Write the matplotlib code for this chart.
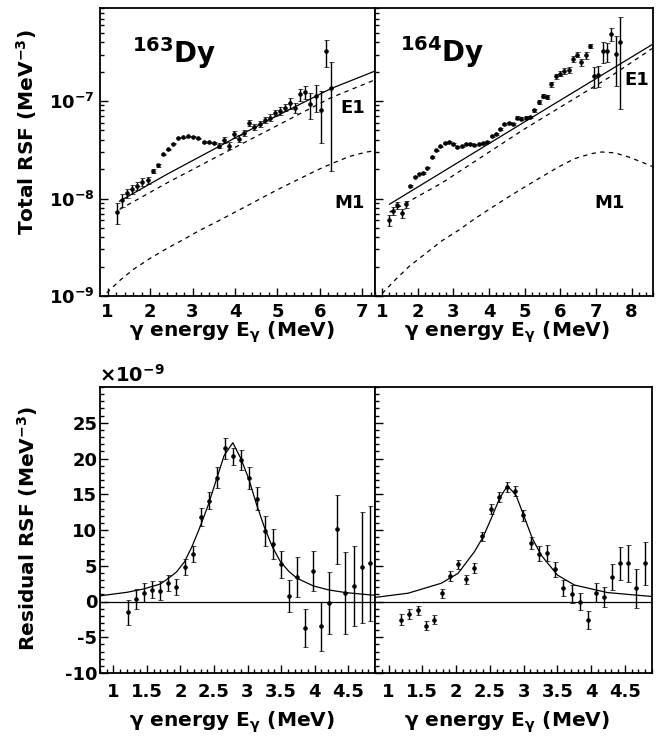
import numpy as np
import matplotlib
matplotlib.use("Agg")
import matplotlib.pyplot as plt
from matplotlib.ticker import MultipleLocator, FixedLocator, LogLocator, NullFormatter, FixedFormatter

plt.rcParams['font.family'] = 'DejaVu Sans'
plt.rcParams['font.weight'] = 'bold'
plt.rcParams['mathtext.fontset'] = 'dejavusans'
plt.rcParams['mathtext.default'] = 'bf'
plt.rcParams['axes.unicode_minus'] = False

# ---------------- data ----------------
# 163Dy total RSF, units of 1e-8 MeV^-3
E163 = [1.22, 1.34, 1.46, 1.58, 1.70, 1.82, 1.94, 2.06, 2.18, 2.30, 2.42, 2.54, 2.66, 2.78,
        2.90, 3.02, 3.14, 3.26, 3.38, 3.50, 3.62, 3.74, 3.86, 3.98, 4.10, 4.22, 4.34, 4.46,
        4.58, 4.70, 4.82, 4.94, 5.06, 5.18, 5.30, 5.42, 5.54, 5.66, 5.78, 5.90, 6.02, 6.14, 6.26]
rsf163 = [0.73, 0.96, 1.14, 1.24, 1.34, 1.49, 1.54, 1.92, 2.19, 2.84, 3.20, 3.66, 4.22, 4.25,
          4.35, 4.28, 4.15, 3.80, 3.78, 3.72, 3.49, 4.02, 3.49, 4.56, 4.11, 4.70, 5.95, 5.42,
          5.77, 6.44, 6.75, 7.54, 7.90, 8.55, 9.54, 8.55, 11.7, 12.4, 9.39, 11.2, 8.15, 32.5, 13.6]
err163 = [0.18, 0.145, 0.12, 0.13, 0.126, 0.135, 0.13, 0.11, 0.08, 0.05, 0.05, 0.05, 0.05, 0.05,
          0.05, 0.05, 0.05, 0.06, 0.06, 0.06, 0.22, 0.28, 0.275, 0.34, 0.32, 0.37, 0.42, 0.38,
          0.41, 0.46, 0.53, 0.59, 0.72, 0.73, 1.3, 1.06, 1.6, 1.8, 2.8, 3.4, 4.4, 10.0, 11.7]

# 164Dy total RSF, units of 1e-8 MeV^-3
E164 = [1.19, 1.31, 1.43, 1.55, 1.67, 1.79, 1.91, 2.03, 2.15, 2.27, 2.39, 2.51, 2.63, 2.75,
        2.87, 2.99, 3.11, 3.23, 3.35, 3.47, 3.59, 3.71, 3.83, 3.95, 4.07, 4.19, 4.31, 4.43,
        4.55, 4.67, 4.79, 4.91, 5.03, 5.15, 5.27, 5.39, 5.51, 5.63, 5.75, 5.87, 5.99, 6.11,
        6.23, 6.35, 6.47, 6.59, 6.71, 6.83, 6.95, 7.07, 7.19, 7.31, 7.43, 7.55, 7.67]
rsf164 = [0.60, 0.747, 0.854, 0.702, 0.875, 1.34, 1.67, 1.80, 1.83, 2.08, 2.67, 3.13, 3.43, 3.72,
          3.80, 3.60, 3.38, 3.43, 3.60, 3.60, 3.52, 3.66, 3.72, 3.80, 4.35, 4.63, 5.21, 5.77,
          6.00, 5.86, 6.75, 6.60, 6.75, 6.86, 8.03, 9.77, 11.25, 11.0, 14.8, 17.9, 19.1, 20.3,
          20.9, 27.1, 30.0, 25.1, 29.4, 36.6, 17.9, 18.3, 32.3, 32.3, 48.9, 30.5, 40.2]
err164 = [0.077, 0.067, 0.076, 0.070, 0.069, 0.02, 0.025, 0.027, 0.027, 0.03, 0.04, 0.047, 0.05, 0.09,
          0.09, 0.086, 0.08, 0.08, 0.086, 0.086, 0.084, 0.088, 0.09, 0.09, 0.10, 0.11, 0.125, 0.14,
          0.145, 0.14, 0.20, 0.20, 0.20, 0.21, 0.26, 0.46, 0.53, 0.52, 0.81, 0.98, 1.05, 1.28,
          1.32, 1.7, 1.9, 2.0, 2.3, 2.0, 4.3, 4.4, 7.7, 7.2, 7.7, 16.4, 32.0]

# model curves (total, E1, M1), units of 1e-8
tot163_E = [1.28, 2.40, 3.63, 4.75, 6.26, 7.30]
tot163 = [0.939, 1.775, 3.43, 6.24, 13.4, 20.3]
e1_163_E = [1.28, 2.40, 3.63, 4.75, 6.26, 7.30]
e1_163 = [0.772, 1.447, 2.76, 4.93, 10.8, 16.5]
m1_163_E = [0.98, 1.30, 1.61, 2.00, 2.40, 2.79, 3.18, 3.57, 3.97, 4.36, 4.75, 5.14, 5.53,
            5.93, 6.32, 6.71, 7.10, 7.30]
m1_163 = [0.108, 0.146, 0.188, 0.243, 0.308, 0.380, 0.474, 0.577, 0.713, 0.875, 1.08, 1.32,
          1.60, 1.95, 2.32, 2.71, 3.00, 3.08]

tot164_E = [1.21, 5.01, 8.61]
tot164 = [0.875, 6.15, 38.6]
e1_164_E = [1.21, 2.68, 5.01, 7.35, 8.61]
e1_164 = [0.724, 1.447, 5.21, 17.3, 35.2]
m1_164_E = [1.00, 1.38, 1.75, 2.22, 2.68, 3.15, 3.61, 4.08, 4.55, 5.01, 5.48, 5.95, 6.41,
            6.88, 7.16, 7.53, 7.91, 8.28, 8.61]
m1_164 = [0.106, 0.148, 0.200, 0.273, 0.369, 0.474, 0.624, 0.809, 1.04, 1.32, 1.67, 2.11,
          2.57, 2.89, 3.00, 2.94, 2.67, 2.37, 2.11]

# residual RSF, units of 1e-9 MeV^-3
res163 = [-1.53, 0.32, 1.25, 1.62, 1.53, 2.55, 1.99, 4.86, 6.62, 11.8, 14.1, 17.3, 21.4, 20.3,
          19.8, 17.3, 14.35, 9.86, 8.0, 5.19, 0.79, 3.47, -3.70, 4.21, -3.47, -0.23, 10.1,
          1.16, 2.18, 4.77, 5.32]
res163_err = [1.8, 1.4, 1.3, 1.2, 1.3, 1.15, 1.1, 1.1, 1.1, 1.3, 1.2, 1.45, 1.4, 1.16, 1.45,
              1.5, 1.6, 2.1, 2.1, 1.85, 2.25, 2.8, 2.64, 2.8, 3.4, 4.3, 4.8, 5.7, 5.6, 7.8, 8.0]
res164 = [-2.55, -1.76, -1.25, -3.38, -2.55, 1.16, 3.56, 5.19, 3.10, 4.63, 9.12, 12.96, 14.58,
          15.97, 15.42, 12.04, 8.19, 6.71, 6.81, 4.49, 1.85, 1.02, 0.0, -2.64, 1.25, 0.69,
          3.47, 5.32, 5.32, 1.85, 5.32]
res164_err = [0.8, 0.7, 0.67, 0.65, 0.6, 0.65, 0.7, 0.63, 0.67, 0.7, 0.67, 0.74, 0.72, 0.7,
              0.67, 0.79, 0.86, 1.0, 1.1, 1.0, 1.1, 1.27, 1.2, 1.27, 1.27, 1.4, 1.8, 2.3, 2.6,
              2.7, 3.0]

# Lorentzian fits to residuals, units of 1e-9
lor163_E = [0.80, 1.21, 1.45, 1.70, 1.82, 1.94, 2.06, 2.17, 2.29, 2.41, 2.53, 2.65, 2.78,
            2.90, 3.02, 3.13, 3.25, 3.37, 3.49, 3.62, 3.74, 3.98, 4.21, 4.46, 4.82, 4.98]
lor163 = [0.79, 1.3, 1.75, 2.45, 3.24, 4.12, 5.56, 7.64, 10.4, 13.4, 16.9, 20.4, 22.2,
          20.0, 17.1, 13.7, 10.4, 7.64, 5.56, 4.17, 3.24, 2.18, 1.62, 1.25, 0.93, 0.83]
lor164_E = [0.79, 1.29, 1.78, 2.03, 2.27, 2.40, 2.52, 2.64, 2.76, 2.89, 3.01, 3.13, 3.26,
            3.50, 3.75, 4.24, 4.91]
lor164 = [0.56, 1.16, 2.55, 3.94, 6.94, 9.03, 11.6, 14.35, 16.2, 14.8, 11.8, 8.8, 6.48,
          3.70, 2.31, 1.25, 0.69]

# ---------------- figure ----------------
W, H = 668.0, 747.0
fig = plt.figure(figsize=(W / 100, H / 100), dpi=100)

def box(x0, y0, x1, y1):
    return [x0 / W, 1 - y1 / H, (x1 - x0) / W, (y1 - y0) / H]

ax_tl = fig.add_axes(box(100, 8, 375, 296))
ax_tr = fig.add_axes(box(375, 8, 653, 296))
ax_bl = fig.add_axes(box(100, 387, 375, 673))
ax_br = fig.add_axes(box(375, 387, 652, 673))

pt_kw = dict(fmt='o', ms=2.7, mew=0.5, color='k', ecolor='k', elinewidth=1.0,
             capsize=1.8, capthick=1.0)
dash = (0, (3.5, 3.5))
tick_fs = 13


def style(ax, xlabel_pad):
    for s in ax.spines.values():
        s.set_linewidth(1.3)
    ax.tick_params(which='both', direction='in', top=False, right=False, width=1.0,
                   labelsize=tick_fs)
    ax.tick_params(which='major', length=6)
    ax.tick_params(which='minor', length=3)
    ax.tick_params(axis='x', pad=xlabel_pad)


# top panels
for ax, E, v, e, tE, tv, eE, ev, mE, mv, xmin, xmax, xt in [
        (ax_tl, E163, rsf163, err163, tot163_E, tot163, e1_163_E, e1_163, m1_163_E, m1_163, 0.82, 7.3, range(1, 8)),
        (ax_tr, E164, rsf164, err164, tot164_E, tot164, e1_164_E, e1_164, m1_164_E, m1_164, 0.8, 8.6, range(1, 9))]:
    s = 1e-8
    ax.plot(tE, np.array(tv) * s, color='k', lw=0.9)
    ax.plot(eE, np.array(ev) * s, color='k', lw=0.9, ls=dash)
    ax.plot(mE, np.array(mv) * s, color='k', lw=0.9, ls=dash)
    ax.errorbar(E, np.array(v) * s, yerr=np.array(e) * s, **pt_kw)
    ax.set_yscale('log')
    ax.set_ylim(1e-9, 9e-7)
    ax.set_xlim(xmin, xmax)
    ax.xaxis.set_major_locator(FixedLocator(list(xt)))
    ax.xaxis.set_major_formatter(FixedFormatter([str(i) for i in xt]))
    ax.xaxis.set_minor_locator(MultipleLocator(0.2))
    ax.yaxis.set_major_locator(FixedLocator([1e-9, 1e-8, 1e-7]))
    ax.yaxis.set_major_formatter(FixedFormatter([r'$10^{-9}$', r'$10^{-8}$', r'$10^{-7}$']))
    ax.yaxis.set_minor_locator(LogLocator(base=10, subs=np.arange(2, 10)))
    ax.yaxis.set_minor_formatter(NullFormatter())
    style(ax, 5)
    ax.tick_params(axis='y', pad=4)

ax_tr.tick_params(labelleft=False)

ax_tl.text(0.116, 0.809, r'$^{163}$Dy', transform=ax_tl.transAxes, fontsize=20,
           fontweight='bold', va='baseline')
ax_tr.text(0.09, 0.8125, r'$^{164}$Dy', transform=ax_tr.transAxes, fontsize=20,
           fontweight='bold', va='baseline')
ax_tl.text(0.92, 0.653, 'E1', transform=ax_tl.transAxes, fontsize=13, ha='center', va='center')
ax_tr.text(0.942, 0.75, 'E1', transform=ax_tr.transAxes, fontsize=13, ha='center', va='center')
ax_tl.text(0.909, 0.323, 'M1', transform=ax_tl.transAxes, fontsize=13, ha='center', va='center')
ax_tr.text(0.845, 0.323, 'M1', transform=ax_tr.transAxes, fontsize=13, ha='center', va='center')

# bottom panels
for ax, E, v, e, lE, lv in [(ax_bl, E163[:31], res163, res163_err, lor163_E, lor163),
                            (ax_br, E164[:31], res164, res164_err, lor164_E, lor164)]:
    ax.axhline(0, color='k', lw=0.9)
    ax.plot(lE, lv, color='k', lw=0.9)
    ax.errorbar(E, v, yerr=e, **pt_kw)
    ax.set_xlim(0.8, 4.9)
    ax.set_ylim(-10, 30)
    xt = [1, 1.5, 2, 2.5, 3, 3.5, 4, 4.5]
    ax.xaxis.set_major_locator(FixedLocator(xt))
    ax.xaxis.set_major_formatter(FixedFormatter(['1', '1.5', '2', '2.5', '3', '3.5', '4', '4.5']))
    ax.xaxis.set_minor_locator(MultipleLocator(0.1))
    yt = [-10, -5, 0, 5, 10, 15, 20, 25]
    ax.yaxis.set_major_locator(FixedLocator(yt))
    ax.yaxis.set_major_formatter(FixedFormatter([str(t) for t in yt]))
    ax.yaxis.set_minor_locator(MultipleLocator(1))
    style(ax, 7)
    ax.tick_params(axis='y', pad=2)

ax_br.tick_params(labelleft=False)

fig.text(99 / W, 1 - 382 / H, r'$\mathrm{\times}10^{-9}$', fontsize=14, va='baseline', ha='left')

# axis titles
ylab = dict(rotation=90, ha='center', va='center', fontsize=14.5, fontweight='bold')
fig.text(27 / W, 1 - 132 / H, r'Total RSF (MeV$^{-3}$)', **ylab)
fig.text(28 / W, 1 - 528 / H, r'Residual RSF (MeV$^{-3}$)', **ylab)

xlab_str = r'$\mathrm{\gamma}$ energy E$_{\mathrm{\gamma}}$ (MeV)'
xlab = dict(ha='center', va='center', fontsize=14.5, fontweight='bold')
fig.text(232 / W, 1 - 332 / H, xlab_str, **xlab)
fig.text(507 / W, 1 - 332 / H, xlab_str, **xlab)
fig.text(232 / W, 1 - 722 / H, xlab_str, **xlab)
fig.text(507 / W, 1 - 722 / H, xlab_str, **xlab)

fig.savefig('out.png', dpi=100, facecolor='white')
